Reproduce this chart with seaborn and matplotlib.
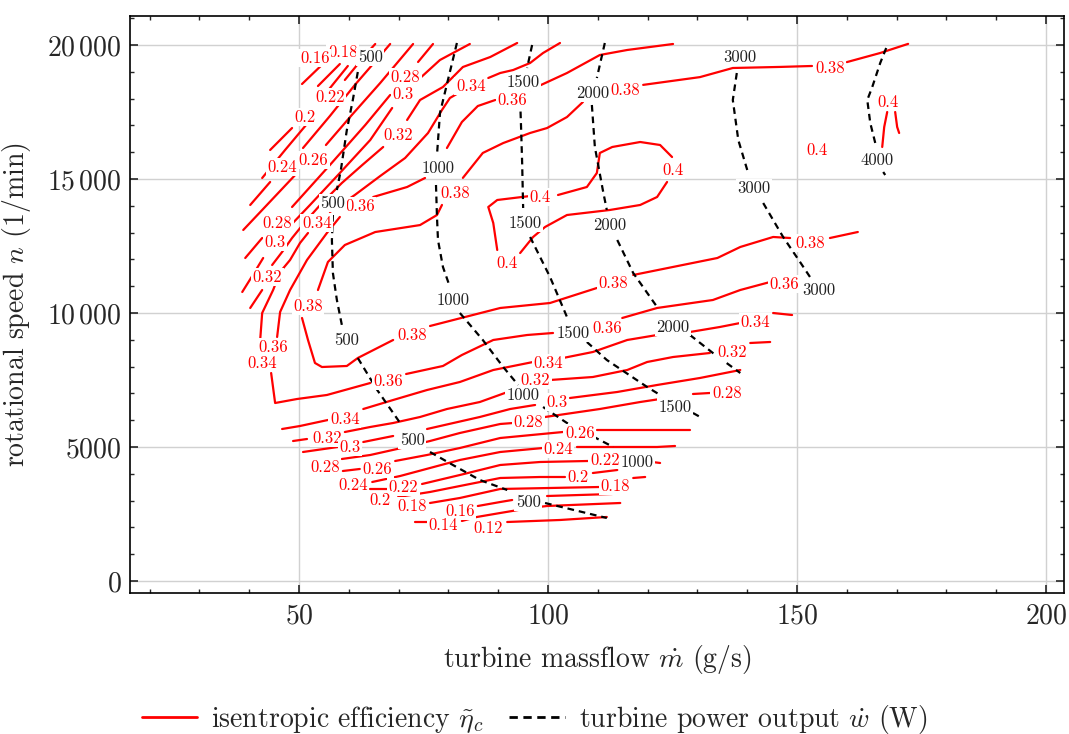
import matplotlib
matplotlib.use("Agg")
import matplotlib.pyplot as plt
import pandas as pd
import seaborn as sns
from matplotlib.lines import Line2D
from matplotlib.ticker import MultipleLocator, FuncFormatter

# ---- isentropic efficiency iso-lines: massflow (g/s), speed (1/min) ----
eta_040 = [
    [(94.4, 12237), (97.0, 12835), (99.4, 13208), (103.8, 13655), (112.4, 13842), (118.5, 14029), (121.9, 14327), (123.9, 14887)],
    [(124.9, 15819), (122.5, 16267), (118.5, 16379), (112.9, 16193), (110.4, 15969), (109.8, 15222), (107.8, 14700), (102.0, 14402)],
    [(96.4, 14364), (89.8, 14215), (88.0, 13954), (89.0, 13357), (89.8, 12350)],
    [(168.1, 17498), (167.5, 16939), (167.1, 16193)],
    [(169.7, 17498), (170.1, 16939), (170.5, 16715)],
]
eta_038 = [
    [(172.3, 20040), (166.7, 19700), (160.0, 19360)],
    [(153.0, 19215), (146.6, 19180), (137.1, 19140), (130.5, 18800), (119.1, 18510)],
    [(107.0, 17870), (103.8, 17310), (99.8, 16900), (96.4, 16715), (91.0, 16340), (86.9, 15970), (82.9, 15040)],
    [(78.7, 14030), (77.7, 13655), (74.3, 13280), (65.3, 13020), (59.2, 12536), (55.8, 11902), (53.8, 10857)],
    [(50.6, 9813), (51.8, 8992), (53.2, 8134), (54.6, 7984), (59.6, 8022), (61.8, 8320), (68.9, 8992)],
    [(76.3, 9514), (90.4, 10186), (100.4, 10372), (109.8, 10932)],
    [(117.1, 11417), (134.0, 12051), (138.6, 12462), (145.2, 12835), (148.6, 12797)],
    [(156.6, 12797), (162.2, 13021)],
]
eta_036 = [
    [(125.1, 20036), (115.9, 19812), (110.4, 19625), (103.8, 18953), (96.4, 18319)],
    [(89.4, 17946), (85.9, 17722), (82.7, 17125), (79.7, 16155)],
    [(75.3, 15036), (71.7, 14700), (64.9, 14327)],
    [(58.2, 13581), (55.6, 12984), (51.6, 11977), (48.2, 10857), (46.2, 10036), (45.6, 9104)],
    [(44.4, 7760), (45.2, 6641), (49.6, 6790), (55.6, 6940), (64.3, 7387)],
    [(71.5, 7723), (78.9, 8022), (82.7, 8432), (89.0, 8992), (95.8, 9178), (101.0, 9253)],
    [(114.9, 9813), (121.9, 10186), (133.1, 10484), (138.6, 10857), (144.6, 11156)],
]
eta_034 = [
    [(102.4, 20073), (99.0, 19700), (96.4, 19327), (93.0, 19065), (90.4, 18953), (88.0, 18767)],
    [(82.0, 18207), (80.3, 18021), (78.7, 17573), (75.9, 16715), (71.3, 15782), (66.3, 15110), (61.2, 14402), (56.2, 13767)],
    [(51.8, 12984), (50.2, 12611), (48.2, 11977), (46.2, 11529), (44.8, 10857), (42.6, 9999), (42.2, 8992)],
    [(46.6, 5671), (50.2, 5783), (55.8, 6007)],
    [(62.9, 6417), (68.9, 6753), (75.7, 7126), (82.3, 7425), (89.0, 7872), (97.0, 8171)],
    [(103.0, 8320), (109.0, 8544), (115.9, 8992), (121.9, 9178)],
    [(128.5, 9290), (134.5, 9477), (138.6, 9626)],
    [(145.2, 9999), (149.0, 9924)],
]
eta_032 = [
    [(93.8, 20073), (88.4, 19550), (82.9, 19177), (78.9, 18431), (74.3, 17946), (71.7, 17200)],
    [(66.9, 16193), (62.7, 15521), (58.6, 14849), (54.6, 14103), (51.2, 13394), (48.6, 12797), (46.6, 12275), (44.6, 11790)],
    [(42.6, 10857), (40.2, 10186)],
    [(48.8, 5223), (51.6, 5298)],
    [(59.2, 5559), (64.3, 5746), (68.9, 5895), (74.3, 6119), (79.7, 6417), (86.3, 6678), (93.0, 7126)],
    [(100.4, 7499), (109.0, 7611), (115.9, 7872), (119.9, 8171), (125.1, 8357), (132.5, 8507)],
    [(140.6, 8880), (144.6, 8917)],
]
eta_030 = [
    [(84.3, 20036), (78.3, 19439), (73.9, 18693)],
    [(68.7, 17648), (64.3, 16454), (58.2, 15222), (52.2, 14029), (47.8, 13170)],
    [(42.8, 12051), (40.6, 11379), (38.6, 10783)],
    [(50.8, 4813), (57.8, 5000)],
    [(62.9, 5186), (68.9, 5410)],
    [(75.7, 5671), (86.3, 6119), (92.4, 6417), (97.4, 6567)],
    [(104.4, 6828), (113.9, 7052), (121.9, 7313), (130.5, 7574), (138.6, 7872)],
]
eta_028 = [
    [(76.9, 20036), (73.9, 19364)],
    [(68.3, 18133), (63.3, 17013), (56.2, 15521), (48.6, 13954)],
    [(42.6, 12797), (39.2, 12051)],
    [(58.6, 4552), (64.3, 4701), (69.7, 4925), (76.3, 5223), (82.3, 5522), (90.4, 5858), (93.0, 5895)],
    [(99.4, 6119), (110.4, 6417), (118.5, 6678), (122.5, 6790)],
    [(129.1, 6977), (132.5, 7014)],
]
eta_026 = [
    [(72.9, 20036), (66.3, 18580), (60.6, 17386), (55.4, 16267)],
    [(49.8, 15260), (42.6, 13842), (38.8, 13096)],
    [(58.8, 4104), (62.2, 4179)],
    [(69.3, 4477), (75.7, 4701), (82.3, 4962), (90.4, 5335), (103.0, 5559)],
    [(109.8, 5634), (118.5, 5634), (128.5, 5634)],
]
eta_024 = [
    [(68.3, 20036), (65.9, 19513), (61.2, 18506), (56.2, 17349), (50.8, 16155)],
    [(44.2, 14887), (40.2, 14029)],
    [(64.7, 3694), (70.3, 3917), (76.3, 4216), (82.3, 4515), (90.4, 4813), (99.0, 4962)],
    [(105.8, 5000), (114.5, 5000), (121.9, 5000), (125.5, 5037)],
]
eta_022 = [
    [(65.3, 20036), (63.3, 19625), (59.2, 18693)],
    [(52.6, 17275), (47.2, 16081), (42.6, 15036)],
    [(64.3, 3433), (67.9, 3433)],
    [(74.7, 3619), (82.3, 3955), (90.4, 4328), (98.4, 4440), (108.0, 4477)],
    [(120.9, 4440), (122.5, 4403)],
]
eta_020 = [
    [(59.8, 19215), (57.2, 18618), (53.8, 17834)],
    [(48.6, 16901), (44.2, 16081)],
    [(69.9, 3134), (76.3, 3321), (82.3, 3544), (90.4, 3843), (98.4, 3880), (103.4, 3880)],
    [(109.0, 4029), (113.9, 4141)],
]
eta_018 = [
    [(58.2, 19289), (53.8, 18468)],
    [(76.3, 2910), (82.3, 3097), (90.4, 3433), (100.4, 3470), (110.4, 3507)],
    [(117.1, 3843), (119.5, 3880)],
]
eta_016 = [
    [(55.2, 19364), (50.6, 18543)],
    [(85.9, 2798), (90.4, 2947), (92.8, 3022)],
    [(99.8, 3171), (106.4, 3209), (112.9, 3246)],
]
eta_014 = [
    [(73.3, 2201), (75.7, 2201)],
    [(82.7, 2239), (85.7, 2388), (90.4, 2537), (96.4, 2724), (99.8, 2798), (114.5, 2910)],
]
eta_012 = [
    [(91.8, 2201), (102.4, 2276), (111.8, 2388)],
]

eta_labels = [
    ("0.38", 81.3, 14476), ("0.38", 51.8, 10260), ("0.38", 72.7, 9178), ("0.38", 113.1, 11118),
    ("0.38", 152.6, 12611), ("0.38", 115.5, 18319), ("0.38", 156.6, 19140),
    ("0.4", 98.4, 14327), ("0.4", 125.1, 15334), ("0.4", 91.8, 11864), ("0.4", 168.3, 17871), ("0.4", 154.0, 16081),
    ("0.36", 92.8, 17946), ("0.36", 62.2, 13991), ("0.36", 44.8, 8731), ("0.36", 67.9, 7462),
    ("0.36", 111.8, 9439), ("0.36", 147.4, 11081),
    ("0.34", 84.5, 18468), ("0.34", 53.6, 13357), ("0.34", 42.6, 8134), ("0.34", 59.2, 6044),
    ("0.34", 100.0, 8134), ("0.34", 141.6, 9663),
    ("0.32", 69.9, 16640), ("0.32", 43.6, 11342), ("0.32", 55.6, 5335), ("0.32", 97.4, 7499), ("0.32", 136.9, 8544),
    ("0.3", 70.9, 18170), ("0.3", 45.2, 12648), ("0.3", 60.2, 5000), ("0.3", 101.8, 6678),
    ("0.28", 71.3, 18804), ("0.28", 45.6, 13357), ("0.28", 55.2, 4253), ("0.28", 96.0, 5932), ("0.28", 135.9, 7014),
    ("0.26", 52.8, 15708), ("0.26", 65.7, 4179), ("0.26", 106.4, 5522),
    ("0.24", 46.6, 15446), ("0.24", 60.8, 3582), ("0.24", 102.0, 4925),
    ("0.22", 56.2, 18058), ("0.22", 70.9, 3507), ("0.22", 111.4, 4515),
    ("0.2", 51.2, 17312), ("0.2", 66.3, 3022), ("0.2", 106.0, 3880),
    ("0.18", 72.7, 2798), ("0.18", 113.5, 3544), ("0.18", 58.8, 19737),
    ("0.16", 82.3, 2612), ("0.16", 53.2, 19513),
    ("0.14", 78.9, 2090),
    ("0.12", 88.0, 1977),
]

# ---- turbine power output iso-lines (W) ----
w_0500 = [
    [(61.8, 18991), (60.8, 17946), (59.6, 16827), (58.4, 15334), (57.6, 14588)],
    [(56.8, 13655), (56.6, 12723), (56.8, 11491), (57.6, 10484), (58.6, 9551)],
    [(61.8, 8320), (65.7, 7126), (70.3, 5895)],
    [(76.3, 4813), (80.9, 4328), (86.3, 3768), (91.8, 3395)],
    [(99.4, 2910), (111.8, 2351)],
]
w_1000 = [
    [(81.7, 20073), (79.9, 18693), (78.3, 17461), (77.7, 15894)],
    [(77.5, 14775), (77.7, 13581), (77.9, 12723), (78.9, 11715), (80.3, 10969)],
    [(82.3, 9999), (86.9, 8992), (91.0, 7984), (94.0, 7313)],
    [(99.0, 6492), (103.8, 5895), (113.1, 5000)],
]
w_1500 = [
    [(96.8, 19998), (95.8, 19140)],
    [(94.4, 17946), (94.6, 16827), (94.8, 15596), (95.0, 13917)],
    [(96.4, 12835), (100.4, 11342), (103.8, 9850)],
    [(107.8, 8917), (111.8, 8246), (119.9, 7238), (122.5, 6940)],
    [(129.1, 6268), (130.9, 6082)],
]
w_2000 = [
    [(111.4, 20073), (109.8, 18767)],
    [(108.8, 17760), (109.4, 16193), (111.0, 14588), (111.8, 13842)],
    [(113.9, 12723), (117.1, 11491), (121.9, 10223)],
    [(128.5, 9178), (133.1, 8507), (138.6, 7760)],
]
w_3000 = [
    [(137.9, 18953), (137.1, 17946), (138.2, 16454), (140.0, 15334)],
    [(143.2, 14103), (147.2, 12835), (150.6, 11902), (152.6, 11342)],
]
w_4000 = [
    [(167.9, 19886), (166.7, 19327), (165.1, 18431), (164.1, 17946), (164.7, 17088), (165.7, 16342)],
    [(167.3, 15260), (167.7, 15148)],
]

w_labels = [
    ("500", 64.3, 19550), ("500", 56.8, 14103), ("500", 59.6, 8992), ("500", 72.7, 5261), ("500", 96.0, 2947),
    ("1000", 77.9, 15409), ("1000", 80.9, 10484), ("1000", 95.0, 6940), ("1000", 117.9, 4440),
    ("1500", 95.0, 18618), ("1500", 95.4, 13357), ("1500", 105.0, 9253), ("1500", 125.5, 6492),
    ("2000", 109.0, 18207), ("2000", 112.4, 13282), ("2000", 125.1, 9477),
    ("3000", 138.6, 19550), ("3000", 141.4, 14663), ("3000", 154.4, 10857),
    ("4000", 166.1, 15708),
]

eta_sets = {
    "0.12": eta_012, "0.14": eta_014, "0.16": eta_016, "0.18": eta_018, "0.2": eta_020,
    "0.22": eta_022, "0.24": eta_024, "0.26": eta_026, "0.28": eta_028, "0.3": eta_030,
    "0.32": eta_032, "0.34": eta_034, "0.36": eta_036, "0.38": eta_038, "0.4": eta_040,
}
w_sets = {"500": w_0500, "1000": w_1000, "1500": w_1500, "2000": w_2000, "3000": w_3000, "4000": w_4000}


def to_frame(sets):
    rows = []
    for level, segments in sets.items():
        for k, seg in enumerate(segments):
            for m, n in seg:
                rows.append({"m": m, "n": n, "seg": f"{level}-{k}"})
    return pd.DataFrame(rows)


df_eta = to_frame(eta_sets)
df_w = to_frame(w_sets)

# ---- style ----
sns.set_style("ticks")
plt.rcParams.update({
    "font.family": "serif",
    "font.serif": ["cmr10"],
    "mathtext.fontset": "cm",
    "axes.unicode_minus": False,
    "axes.formatter.use_mathtext": True,
    "font.size": 10,
    "axes.linewidth": 0.6,
    "axes.edgecolor": "black",
})

fig = plt.figure(figsize=(1069 / 200, 734 / 200), dpi=200)
ax = fig.add_axes([130 / 1069, 1 - 593 / 734, (1064 - 130) / 1069, (593 - 16) / 734])

ax.grid(True, which="major", color="0.82", linewidth=0.5)
ax.set_axisbelow(True)

dash = (0, (3, 2.2))
sns.lineplot(data=df_eta, x="m", y="n", units="seg", estimator=None, sort=False,
             color="red", linewidth=0.8, legend=False, ax=ax)
sns.lineplot(data=df_w, x="m", y="n", units="seg", estimator=None, sort=False,
             color="black", linewidth=0.8, linestyle=dash, legend=False, ax=ax)

box = dict(boxstyle="square,pad=0.1", facecolor="white", edgecolor="none")
for text, m, n in eta_labels:
    ax.text(m, n, text, color="red", fontsize=6, ha="center", va="center", bbox=box, zorder=5)
for text, m, n in w_labels:
    ax.text(m, n, text, color="#222222", fontsize=6, ha="center", va="center", bbox=box, zorder=6)

ax.set_xlim(16.06, 203.6)
ax.set_ylim(-448, 21080)
ax.xaxis.set_major_locator(MultipleLocator(50))
ax.xaxis.set_minor_locator(MultipleLocator(10))
ax.yaxis.set_major_locator(MultipleLocator(5000))
ax.yaxis.set_minor_locator(MultipleLocator(1000))


def fmt(v, _pos):
    v = int(round(v))
    if v >= 10000:
        return r"$%d\,%03d$" % (v // 1000, v % 1000)
    return r"$%d$" % v


ax.xaxis.set_major_formatter(FuncFormatter(fmt))
ax.yaxis.set_major_formatter(FuncFormatter(fmt))
ax.tick_params(which="both", direction="in", top=True, right=True, labelsize=10)
ax.tick_params(which="major", length=3, width=0.6)
ax.tick_params(which="minor", length=1.5, width=0.5)
ax.tick_params(axis="y", pad=3)

ax.set_xlabel(r"turbine massflow $\dot{m}$ (g/s)", fontsize=10, labelpad=5)
ax.set_ylabel(r"rotational speed $n$ (1/min)", fontsize=10, labelpad=5)

handles = [Line2D([], [], color="red", linewidth=1.0),
           Line2D([], [], color="black", linewidth=1.0, linestyle=(0, (3, 2)))]
fig.legend(handles, [r"isentropic efficiency $\tilde{\eta}_c$", r"turbine power output $\dot{w}$ (W)"],
           loc="center", bbox_to_anchor=(0.5, 0.02), ncol=2, frameon=False, fontsize=10,
           handlelength=2.0, columnspacing=0.9, handletextpad=0.5)

fig.savefig("out.png", dpi=200)
